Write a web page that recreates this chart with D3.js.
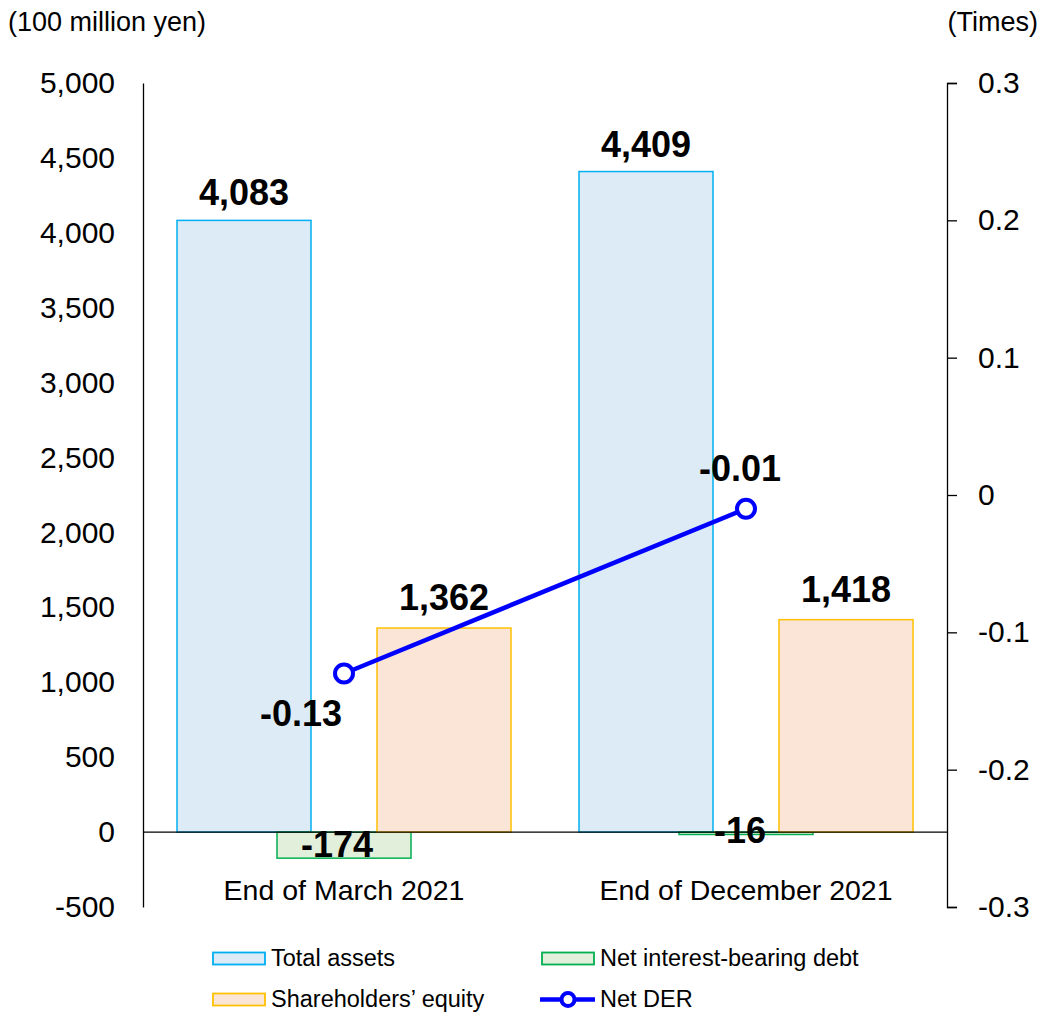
<!DOCTYPE html>
<html>
<head>
<meta charset="utf-8">
<script src="https://cdn.jsdelivr.net/npm/d3@7"></script>
<style>
  html, body { margin: 0; padding: 0; background: #fff; }
  svg { display: block; font-family: Arial, "Liberation Sans", sans-serif; }
</style>
</head>
<body>
<svg id="chart" width="1040" height="1012"></svg>
<script>
// Balance sheet figures (100 million yen) and net DER (times)
const categories = ["End of March 2021", "End of December 2021"];
const totalAssets = [4083, 4409];
const netDebt = [-174, -16];
const equity = [1362, 1418];
const netDER = [-0.13, -0.01];
const leftTicks = [-500, 0, 500, 1000, 1500, 2000, 2500, 3000, 3500, 4000, 4500, 5000];
const rightTicks = [-0.3, -0.2, -0.1, 0, 0.1, 0.2, 0.3];

const seriesNames = ["Total assets", "Net interest-bearing debt", "Shareholders\u2019 equity"];
const seriesValues = [totalAssets, netDebt, equity];
const fills = ["#DDEBF7", "#E2EFDA", "#FBE5D6"];
const strokes = ["#00B0F0", "#00B050", "#FFC000"];

const svg = d3.select("#chart");
const plotLeft = 143, plotRight = 947, plotTop = 83, plotBottom = 907;

const x = d3.scaleBand().domain(categories).range([plotLeft, plotRight]);
const y = d3.scaleLinear().domain([-500, 5000]).range([plotBottom, plotTop]);
const y2 = d3.scaleLinear().domain([-0.3, 0.3]).range([plotBottom, plotTop]);

const barW = 134, step = 100;
// plain hyphen for negatives
const fmt = v => d3.format(",")(v).replace("\u2212", "-");
const fmt1 = v => v === 0 ? "0" : d3.format(".1f")(v).replace("\u2212", "-");
const fmt2 = v => d3.format(".2f")(v).replace("\u2212", "-");

// bars
seriesValues.forEach((vals, s) => {
  svg.append("g").selectAll("rect").data(vals).join("rect")
    .attr("x", (d, i) => x(categories[i]) + x.bandwidth() / 2 + (s - 1) * step - barW / 2)
    .attr("y", d => y(Math.max(0, d)))
    .attr("width", barW)
    .attr("height", d => Math.abs(y(d) - y(0)))
    .attr("fill", fills[s])
    .attr("stroke", strokes[s])
    .attr("stroke-width", 1.5);
});

// zero baseline
svg.append("line").attr("x1", plotLeft).attr("x2", plotRight)
  .attr("y1", y(0)).attr("y2", y(0)).attr("stroke", "#000").attr("stroke-width", 1.3);

// left axis
const la = svg.append("g").attr("transform", `translate(${plotLeft},0)`)
  .call(d3.axisLeft(y).tickValues(leftTicks).tickSize(0).tickPadding(28).tickFormat(fmt));
la.select(".domain").attr("stroke", "#000").attr("stroke-width", 1.3);
la.selectAll("text").attr("font-size", 30).attr("fill", "#000")
  .attr("font-family", "Arial, 'Liberation Sans', sans-serif");

// right axis
const ra = svg.append("g").attr("transform", `translate(${plotRight},0)`)
  .call(d3.axisRight(y2).tickValues(rightTicks).tickSize(10).tickPadding(21).tickFormat(fmt1));
ra.select(".domain").attr("stroke", "#000").attr("stroke-width", 1.3);
ra.selectAll(".tick line").attr("stroke", "#000").attr("stroke-width", 1.3);
ra.selectAll("text").attr("font-size", 30).attr("fill", "#000")
  .attr("font-family", "Arial, 'Liberation Sans', sans-serif");

// axis titles
svg.append("text").attr("x", 8).attr("y", 31).attr("font-size", 27).text("(100 million yen)");
svg.append("text").attr("x", 1038).attr("y", 31).attr("text-anchor", "end").attr("font-size", 27).text("(Times)");

// category labels
svg.append("g").selectAll("text").data(categories).join("text")
  .attr("x", d => x(d) + x.bandwidth() / 2)
  .attr("y", 900)
  .attr("text-anchor", "middle").attr("font-size", 28.5)
  .text(d => d);

// net DER line
const cx = (d, i) => x(categories[i]) + x.bandwidth() / 2;
svg.append("path").datum(netDER)
  .attr("d", d3.line().x(cx).y(d => y2(d)))
  .attr("fill", "none").attr("stroke", "#0000FF").attr("stroke-width", 4.5);
svg.append("g").selectAll("circle").data(netDER).join("circle")
  .attr("cx", cx).attr("cy", d => y2(d)).attr("r", 9)
  .attr("fill", "#fff").attr("stroke", "#0000FF").attr("stroke-width", 4);

// value labels
const labelFont = 36;
function lbl(px, py, t) {
  svg.append("text").attr("x", px).attr("y", py).attr("text-anchor", "middle")
    .attr("font-size", labelFont).attr("font-weight", "bold").text(t);
}
totalAssets.forEach((v, i) => lbl(cx(v, i) - step, y(v) - 15, fmt(v)));
equity.forEach((v, i) => lbl(cx(v, i) + step, y(v) - 18, fmt(v)));
lbl(cx(0, 0) - 7, 857, fmt(netDebt[0]));
lbl(cx(0, 1) - 6, 843, fmt(netDebt[1]));
lbl(cx(0, 0) - 43, y2(netDER[0]) + 52, fmt2(netDER[0]));
lbl(cx(0, 1) - 6, y2(netDER[1]) - 28, fmt2(netDER[1]));

// legend
const leg = svg.append("g").attr("font-size", 23.5);
const legItems = [
  { name: seriesNames[0], kind: 0, lx: 213, ly: 958.5 },
  { name: seriesNames[1], kind: 1, lx: 542, ly: 958.5 },
  { name: seriesNames[2], kind: 2, lx: 213, ly: 999.5 },
  { name: "Net DER", kind: 3, lx: 542, ly: 999.5 }
];
legItems.forEach(it => {
  if (it.kind < 3) {
    leg.append("rect").attr("x", it.lx).attr("y", it.ly - 6).attr("width", 52).attr("height", 12)
      .attr("fill", fills[it.kind]).attr("stroke", strokes[it.kind]).attr("stroke-width", 1.8);
  } else {
    leg.append("line").attr("x1", it.lx - 2).attr("x2", it.lx + 53).attr("y1", it.ly).attr("y2", it.ly)
      .attr("stroke", "#0000FF").attr("stroke-width", 4.5);
    leg.append("circle").attr("cx", it.lx + 26).attr("cy", it.ly).attr("r", 6.5)
      .attr("fill", "#fff").attr("stroke", "#0000FF").attr("stroke-width", 4);
  }
  leg.append("text").attr("x", it.lx + 58).attr("y", it.ly + 7.5).text(it.name);
});
</script>
</body>
</html>
